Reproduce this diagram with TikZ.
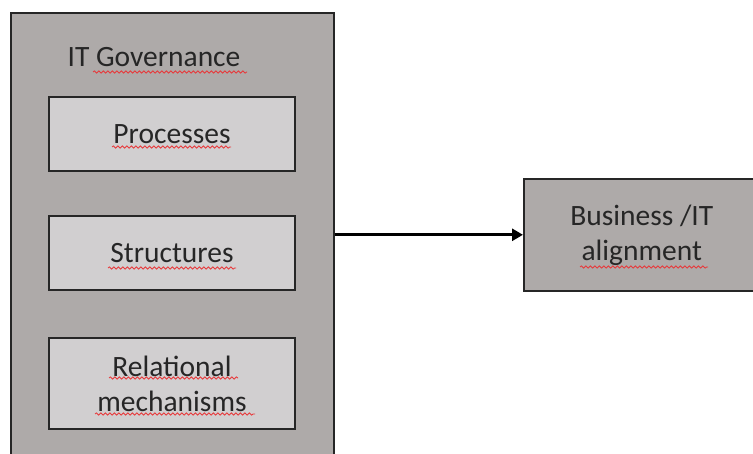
\documentclass[tikz,border=0pt]{standalone}
\usepackage{fontspec}
\setmainfont{Carlito}
\usetikzlibrary{arrows.meta,decorations.pathmorphing}
\definecolor{outergray}{HTML}{AEAAA9}
\definecolor{innergray}{HTML}{D1CFD0}
\definecolor{squig}{HTML}{E8383A}
\begin{document}
\begin{tikzpicture}[x=1pt,y=-1pt,
  outerbox/.style={draw=black!85, line width=1.6pt, fill=outergray, inner sep=0pt},
  innerbox/.style={draw=black!85, line width=1.6pt, fill=innergray, inner sep=0pt,
    minimum width=246pt, align=center, font=\fontsize{29.5}{35}\selectfont, text=black!85},
  lbl/.style={font=\fontsize{29.5}{35}\selectfont, text=black!85, inner sep=0pt, align=center},
  spell/.style={draw=squig, line width=0.8pt, decorate,
    decoration={snake, amplitude=1.1pt, segment length=4.5pt}},
  arr/.style={line width=3pt, -{Triangle[length=11pt,width=12pt]}}]
\clip (0,0) rectangle (753,454);
\fill[white] (0,0) rectangle (753,454);
% outer box
\node[outerbox, minimum width=323pt, minimum height=470pt, anchor=north west] (gov) at (10,12) {};
\node[lbl, anchor=base] (govl) at (154,67) {IT Governance};
% inner boxes
\node[innerbox, minimum height=74pt] (proc) at (172,134) {Processes};
\node[innerbox, minimum height=74pt] (struc) at (172,253) {Structures};
\node[innerbox, minimum height=91pt] (rel) at (172,383.5) {Relational\\mechanisms};
% right box
\node[outerbox, minimum width=236pt, minimum height=112pt, anchor=north west,
      align=center, font=\fontsize{29.5}{35}\selectfont, text=black!85] (biz) at (523,178) {Business /IT\\alignment};
% arrow
\draw[arr] (biz.west -| gov.east) -- (biz.west);
% spell-check underlines
\draw[spell] (93,72) -- (247,72);
\draw[spell] (112,147) -- (231,147);
\draw[spell] (108,268) -- (236,268);
\draw[spell] (109,378) -- (238,378);
\draw[spell] (95,414) -- (255,414);
\draw[spell] (580,267) -- (708,267);
\end{tikzpicture}
\end{document}
